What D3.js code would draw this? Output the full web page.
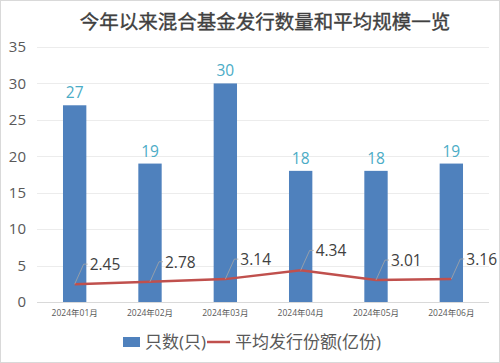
<!DOCTYPE html>
<html>
<head>
	<meta charset="utf-8">
	<title>今年以来混合基金发行数量和平均规模一览</title>
	<script src="https://d3js.org/d3.v7.min.js"></script>
	<style>
		body { margin: 0; background: #fff; }
		text { font-family: "Open Sans", "Noto Sans CJK SC", sans-serif; }
		.title { font-family: "Noto Sans CJK SC", sans-serif; font-weight: normal; }
		.cjk { font-family: "Open Sans", "Noto Sans CJK SC", sans-serif; }
	</style>
</head>
<body>
	<div id="chart"></div>

	<script>
		// chart data
		var months = ["2024年01月", "2024年02月", "2024年03月", "2024年04月", "2024年05月", "2024年06月"];
		var counts = [27, 19, 30, 18, 18, 19];
		var avgSize = [2.45, 2.78, 3.14, 4.34, 3.01, 3.16];
		var yTicks = [0, 5, 10, 15, 20, 25, 30, 35];
		var seriesNames = ["只数(只)", "平均发行份额(亿份)"];

		var W = 500, H = 363;
		var margin = { top: 47, right: 11, bottom: 61, left: 37 };

		var svg = d3.select("#chart").append("svg")
			.attr("width", W)
			.attr("height", H);

		// outer border
		svg.append("rect")
			.attr("x", 0.5).attr("y", 0.5)
			.attr("width", W - 1).attr("height", H - 1)
			.attr("fill", "#fff")
			.attr("stroke", "#d9d9d9");

		svg.append("text")
			.attr("class", "title")
			.attr("x", 265)
			.attr("y", 29)
			.attr("text-anchor", "middle")
			.attr("font-size", 19.5)
			.attr("fill", "#404040")
			.attr("stroke", "#404040")
			.attr("stroke-width", 0.35)
			.text("今年以来混合基金发行数量和平均规模一览");

		var x = d3.scaleBand()
			.domain(months)
			.range([margin.left, W - margin.right])
			.paddingInner(0.69)
			.paddingOuter(0.345);

		var y = d3.scaleLinear()
			.domain([0, 35])
			.range([H - margin.bottom, margin.top]);

		// gridlines
		svg.append("g")
			.selectAll("line")
			.data(yTicks)
			.enter().append("line")
			.attr("x1", margin.left)
			.attr("x2", W - margin.right)
			.attr("y1", function (d) { return Math.round(y(d)) + 0.5; })
			.attr("y2", function (d) { return Math.round(y(d)) + 0.5; })
			.attr("stroke", function (d) { return d === 0 ? "#d9d9d9" : "#ececec"; })
			.attr("stroke-width", 1);

		// y axis labels
		var yAxis = d3.axisLeft(y).tickValues(yTicks).tickSize(0).tickPadding(11);
		var gy = svg.append("g")
			.attr("transform", "translate(" + margin.left + ",0)")
			.call(yAxis);
		gy.select(".domain").remove();
		gy.selectAll("text")
			.attr("font-family", "Open Sans, sans-serif")
			.attr("font-size", 15)
			.attr("fill", "#595959");

		// x axis labels
		var xAxis = d3.axisBottom(x).tickSize(0).tickPadding(8);
		var gx = svg.append("g")
			.attr("transform", "translate(0," + (H - margin.bottom) + ")")
			.call(xAxis);
		gx.select(".domain").remove();
		gx.selectAll("text")
			.attr("font-family", "Open Sans, Noto Sans CJK SC, sans-serif")
			.attr("font-size", 8.5)
			.attr("fill", "#595959");

		// bars
		svg.append("g")
			.selectAll("rect")
			.data(counts)
			.enter().append("rect")
			.attr("x", function (d, i) { return x(months[i]); })
			.attr("y", function (d) { return y(d); })
			.attr("width", x.bandwidth())
			.attr("height", function (d) { return y(0) - y(d); })
			.attr("fill", "#4f81bd");

		// bar value labels
		svg.append("g")
			.selectAll("text")
			.data(counts)
			.enter().append("text")
			.attr("x", function (d, i) { return x(months[i]) + x.bandwidth() / 2; })
			.attr("y", function (d) { return y(d) - 7; })
			.attr("text-anchor", "middle")
			.attr("font-size", 15.5)
			.attr("fill", "#4bacc6")
			.text(function (d) { return d; });

		// line series
		var line = d3.line()
			.x(function (d, i) { return x(months[i]) + x.bandwidth() / 2; })
			.y(function (d) { return y(d); });

		svg.append("path")
			.datum(avgSize)
			.attr("d", line)
			.attr("fill", "none")
			.attr("stroke", "#c0504d")
			.attr("stroke-width", 2.5);

		// line labels with leader lines
		var lbl = svg.append("g")
			.selectAll("g")
			.data(avgSize)
			.enter().append("g")
			.attr("transform", function (d, i) {
				return "translate(" + (x(months[i]) + x.bandwidth() / 2) + "," + y(d) + ")";
			});

		lbl.append("path")
			.attr("d", "M0,0L9,-20L13,-20")
			.attr("fill", "none")
			.attr("stroke", "#a6a6a6")
			.attr("stroke-width", 0.8);

		lbl.append("text")
			.attr("x", 15)
			.attr("y", -14)
			.attr("font-size", 15.5)
			.attr("fill", "#404040")
			.text(function (d) { return d.toFixed(2); });

		// legend
		var leg = svg.append("g").attr("font-size", 17).attr("fill", "#595959");
		leg.append("rect")
			.attr("x", 123).attr("y", 337)
			.attr("width", 17).attr("height", 10)
			.attr("fill", "#4f81bd");
		leg.append("text")
			.attr("class", "cjk")
			.attr("x", 145).attr("y", 348)
			.text(seriesNames[0]);
		leg.append("line")
			.attr("x1", 207).attr("x2", 230)
			.attr("y1", 342).attr("y2", 342)
			.attr("stroke", "#c0504d")
			.attr("stroke-width", 2.5);
		leg.append("text")
			.attr("class", "cjk")
			.attr("x", 235).attr("y", 348)
			.text(seriesNames[1]);
	</script>
</body>
</html>
